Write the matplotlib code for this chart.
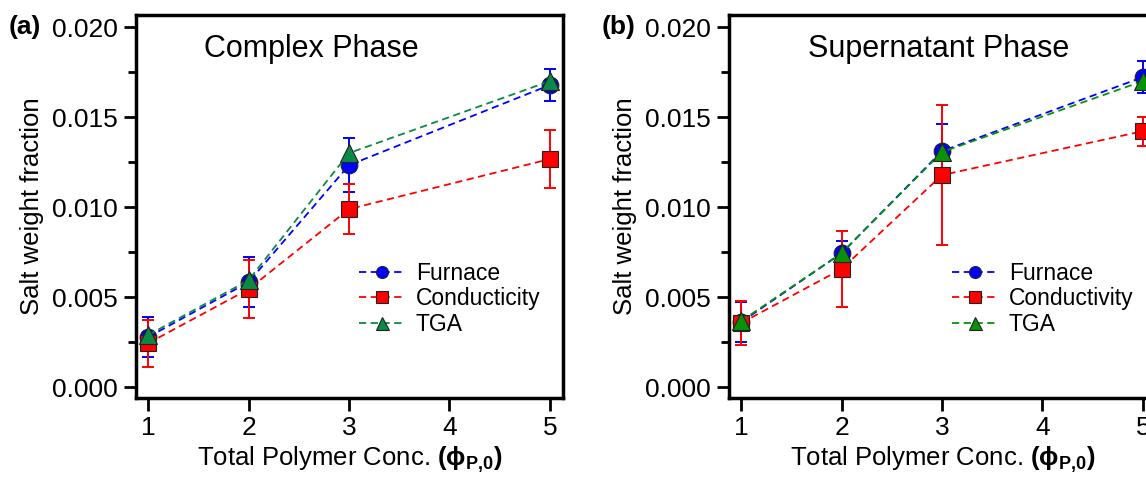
import matplotlib
matplotlib.use("Agg")
import matplotlib.pyplot as plt
import numpy as np

plt.rcParams['font.family'] = ['Liberation Sans', 'DejaVu Sans']
plt.rcParams['mathtext.fontset'] = 'custom'
plt.rcParams['mathtext.rm'] = 'Liberation Sans'
plt.rcParams['mathtext.bf'] = 'Liberation Sans:bold'

conc = [1, 2, 3, 5]

# panel (a) complex phase
a_furnace = [0.00278, 0.00583, 0.01233, 0.01678]
a_furnace_err = [0.0011, 0.0014, 0.0015, 0.0009]
a_cond = [0.00244, 0.00544, 0.00989, 0.01267]
a_cond_err = [0.0013, 0.0016, 0.0014, 0.0016]
a_tga = [0.00289, 0.00594, 0.01300, 0.01700]

# panel (b) supernatant phase
b_furnace = [0.00361, 0.00744, 0.01311, 0.01722]
b_furnace_err = [0.0011, 0.0007, 0.0015, 0.0009]
b_cond = [0.00356, 0.00656, 0.01178, 0.01422]
b_cond_err = [0.0012, 0.0021, 0.0039, 0.0008]
b_tga = [0.00367, 0.00744, 0.01306, 0.01700]

fig = plt.figure(figsize=(11.46, 4.8), dpi=100)
W, H = 1146, 480


def panel(left_px, furn, furn_err, cond, cond_err, tga, title, title_x, cond_label, green, tag):
    ax = fig.add_axes([left_px / W, 1 - 398 / H, 427 / W, 383 / H])
    dash = (0, (4, 2.5))
    ax.errorbar(conc, furn, yerr=furn_err, color='#0000ff', ls='none', capsize=4.5, elinewidth=1.4, capthick=1.4, zorder=2)
    ax.errorbar(conc, cond, yerr=cond_err, color='#ff0000', ls='none', capsize=4.5, elinewidth=1.4, capthick=1.4, zorder=2)
    ax.plot(conc, furn, color='#0000ff', ls=dash, lw=1.3, marker='o', ms=12, mfc='#0000ff', mec='#222222', mew=0.8,
            label='Furnace', zorder=3)
    ax.plot(conc, cond, color='#ff0000', ls=dash, lw=1.3, marker='s', ms=12, mfc='#ff0000', mec='#222222', mew=0.8,
            label=cond_label, zorder=3)
    ax.plot(conc, tga, color=green, ls=dash, lw=1.3, marker='^', ms=13, mfc=green, mec='#222222', mew=0.8,
            label='TGA', zorder=4)

    ax.set_xlim(0.88, 5.13)
    ax.set_ylim(-0.0006, 0.02067)
    ax.set_xticks([1, 2, 3, 4, 5])
    ax.set_yticks([0, 0.005, 0.010, 0.015, 0.020])
    ax.set_yticklabels(['0.000', '0.005', '0.010', '0.015', '0.020'])
    ax.set_yticks([0.0025, 0.0075, 0.0125, 0.0175], minor=True)
    ax.tick_params(axis='both', which='major', direction='out', length=9, width=2, labelsize=19, pad=4)
    ax.tick_params(axis='y', which='minor', direction='out', length=6, width=2)
    for s in ax.spines.values():
        s.set_linewidth(2.5)

    ax.set_ylabel('Salt weight fraction', fontsize=18.5, labelpad=6)
    ax.set_xlabel('Total Polymer Conc. ' + r'$\mathbf{(ϕ_{P{,}0})}$', fontsize=18.5, labelpad=3)
    ax.text(title_x, 0.91, title, transform=ax.transAxes, ha='center', va='center', fontsize=22)

    ax.legend(loc='upper left', bbox_to_anchor=(0.5, 0.38), frameon=False, fontsize=16.5,
              handlelength=2.0, handletextpad=0.5, labelspacing=0.12, borderaxespad=0, markerscale=0.72)
    fig.text((left_px - 127) / W, 1 - 27 / H, tag, fontsize=19, fontweight='bold', va='center', ha='left')
    return ax


panel(136, a_furnace, a_furnace_err, a_cond, a_cond_err, a_tga, 'Complex Phase', 0.41, 'Conducticity', '#0a8a45', '(a)')
panel(729, b_furnace, b_furnace_err, b_cond, b_cond_err, b_tga, 'Supernatant Phase', 0.49, 'Conductivity', '#079207', '(b)')

fig.savefig('out.png', dpi=100)
